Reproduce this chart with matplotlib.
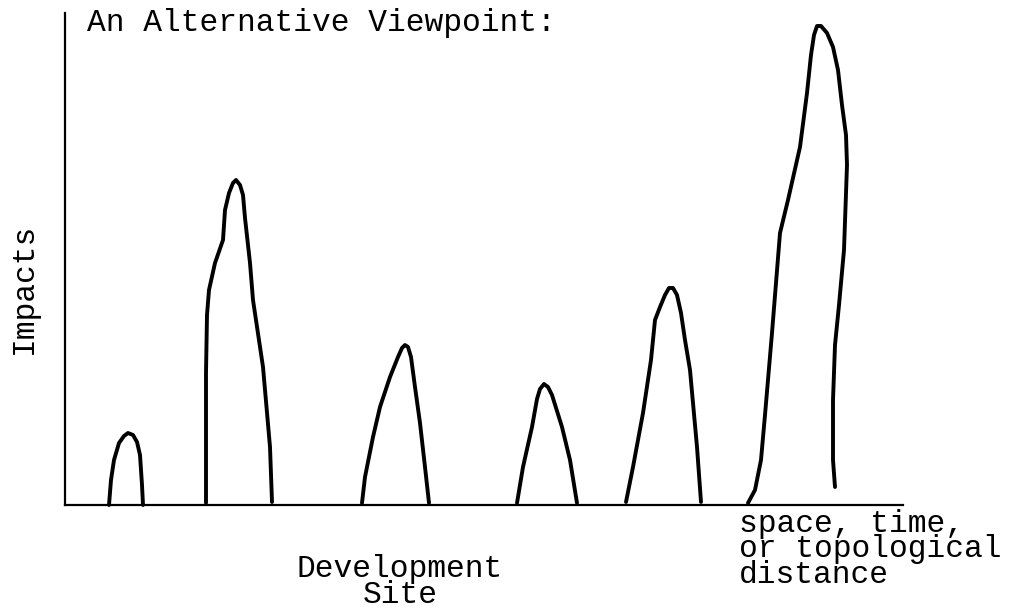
import matplotlib
matplotlib.use("Agg")
import matplotlib.pyplot as plt

# Peak outlines: distance along axis (x) and impact (y)
peak1_x = [44, 46, 49, 54, 59, 63, 68, 72, 75, 76, 77, 78]
peak1_y = [0, 25, 45, 62, 69, 72, 70, 63, 50, 35, 20, 0]

peak2_x = [141, 141, 142, 144, 150, 158, 160, 164, 168, 171, 175, 178, 180, 185, 188, 198, 205, 207]
peak2_y = [2, 132, 190, 215, 242, 265, 295, 312, 322, 325, 320, 310, 287, 242, 205, 138, 58, 3]

peak3_x = [297, 300, 308, 315, 325, 333, 337, 340, 343, 346, 350, 355, 360, 364]
peak3_y = [2, 28, 68, 98, 128, 148, 157, 160, 158, 148, 118, 82, 38, 2]

peak4_x = [452, 458, 467, 472, 475, 479, 483, 487, 497, 505, 512]
peak4_y = [2, 38, 78, 106, 116, 121, 118, 110, 78, 45, 2]

peak5_x = [561, 568, 578, 586, 590, 595, 600, 604, 608, 612, 616, 620, 625, 632, 636]
peak5_y = [3, 38, 92, 145, 185, 198, 210, 217, 217, 210, 192, 165, 135, 58, 3]

peak6_x = [683, 690, 696, 700, 707, 715, 723, 735, 742, 746, 749, 752, 756, 762, 768, 773,
           777, 781, 782, 779, 774, 770, 768, 768, 770]
peak6_y = [2, 15, 45, 90, 172, 272, 305, 358, 412, 450, 470, 479, 479, 472, 458, 435,
           400, 370, 340, 255, 200, 160, 105, 45, 18]

peaks = [(peak1_x, peak1_y), (peak2_x, peak2_y), (peak3_x, peak3_y),
         (peak4_x, peak4_y), (peak5_x, peak5_y), (peak6_x, peak6_y)]

title_text = "An Alternative Viewpoint:"
y_label = "Impacts"
site_label = "Development\nSite"
dist_label = "space, time,\nor topological\ndistance"

W, H = 1016, 616
fig = plt.figure(figsize=(W / 100, H / 100), dpi=100)
fig.patch.set_facecolor("white")

ax_left, ax_right, ax_top, ax_bottom = 65, 903, 13, 505
ax = fig.add_axes([ax_left / W, (H - ax_bottom) / H,
                   (ax_right - ax_left) / W, (ax_bottom - ax_top) / H])
ax.set_xlim(0, ax_right - ax_left)
ax.set_ylim(0, ax_bottom - ax_top)
for s in ("top", "right"):
    ax.spines[s].set_visible(False)
for s in ("left", "bottom"):
    ax.spines[s].set_linewidth(1.6)
    ax.spines[s].set_color("black")
ax.set_xticks([])
ax.set_yticks([])
ax.patch.set_alpha(0)

for px, py in peaks:
    ax.plot(px, py, color="black", lw=2.8, solid_joinstyle="round",
            solid_capstyle="round", clip_on=False)

font = dict(family=["Liberation Mono", "DejaVu Sans Mono"], fontsize=22.5, color="black")

fig.text(87 / W, 1 - 23 / H, title_text, ha="left", va="center", **font)
fig.text(24 / W, 1 - 288 / H, y_label, ha="center", va="center", rotation=90, **font)
fig.text(400 / W, 1 - 582 / H, site_label, ha="center", va="center",
         multialignment="center", linespacing=0.8, **font)
fig.text(739 / W, 1 - 509 / H, dist_label, ha="left", va="top",
         linespacing=0.8, **font)

fig.savefig("out.png", dpi=100, facecolor="white")
